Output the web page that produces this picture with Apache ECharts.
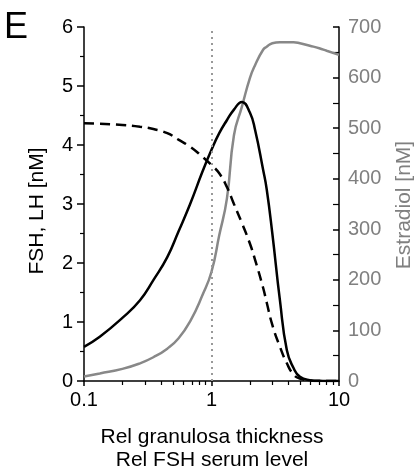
<!DOCTYPE html>
<html><head><meta charset="utf-8">
<script src="https://cdn.jsdelivr.net/npm/echarts@6/dist/echarts.min.js"></script>
<style>html,body{margin:0;padding:0;background:#fff}#c{width:415px;height:471px}</style>
</head><body><div id="c"></div>
<script>
// ---- data ----
const xValues = [0.1,0.133,0.2,0.275,0.35,0.45,0.55,0.68,0.85,1.0,1.15,1.32,1.5,1.73,2.0,2.2,2.54,2.71,3.0,3.44,3.9,4.4,4.94,5.9,7,8,10];
const lhValues = [0.58,0.75,1.07,1.37,1.71,2.1,2.53,3.0,3.55,3.92,4.2,4.42,4.6,4.73,4.55,4.25,3.58,3.25,2.5,1.37,0.52,0.22,0.07,0.015,0.003,0,0];
const fshValues = [4.37,4.36,4.34,4.31,4.27,4.2,4.09,3.97,3.8,3.66,3.52,3.29,3.0,2.68,2.33,2.05,1.58,1.33,0.95,0.58,0.3,0.11,0.04,0.01,0,0,0];
const estradiolValues = [9,15,24,35,47,64,84,118,170,216,288,360,486,542,599,625,655,661,668,670,670,670,668,663,658,653,645];
const xMajorTicks = [0.1,1,10];
const xMinorTicks = [0.2,0.3,0.4,0.5,0.6,0.7,0.8,0.9,2,3,4,5,6,7,8,9];
const referenceX = 1;
const leftRange = [0,6], leftStep = 1;
const rightRange = [0,700], rightStep = 100;
const titleText = 'E';
const leftName = 'FSH, LH [nM]';
const rightName = 'Estradiol [nM]';
const xNameLines = ['Rel granulosa thickness','Rel FSH serum level'];

const FONT = '"Liberation Sans", Arial, sans-serif';
const GRAY = '#888888';
const LABEL_GRAY = '#808080';

const pairs = arr => xValues.map((x,i)=>[x, arr[i]]);

const chart = echarts.init(document.getElementById('c'), null, {renderer:'canvas'});
chart.setOption({
  animation:false,
  backgroundColor:'#fff',
  grid:{left:84, right:76, top:27, bottom:90, containLabel:false},
  xAxis:[{
    type:'log', logBase:10, min:xMajorTicks[0], max:xMajorTicks[xMajorTicks.length-1],
    axisLine:{show:true, onZero:false, lineStyle:{color:'#000', width:1.5}},
    axisTick:{show:true, length:5, lineStyle:{color:'#000', width:1.5}},
    axisLabel:{fontSize:20, color:'#000', fontFamily:FONT, margin:9,
      formatter:v=>String(v)},
    splitLine:{show:false}, minorTick:{show:false}
  },{
    type:'value', min:-1, max:1, position:'bottom',
    axisLine:{show:false, onZero:false},
    axisTick:{show:true, length:4, customValues:xMinorTicks.map(v=>Math.log10(v)), lineStyle:{color:'#000', width:1.2}},
    axisLabel:{show:false}, splitLine:{show:false}
  }],
  yAxis:[{
    type:'value', min:leftRange[0], max:leftRange[1], interval:leftStep, position:'left',
    axisLine:{show:true, onZero:false, lineStyle:{color:'#000', width:1.5}},
    axisTick:{show:true, length:7, lineStyle:{color:'#000', width:1.5}},
    minorTick:{show:true, splitNumber:2, length:4, lineStyle:{color:'#000', width:1.2}},
    axisLabel:{fontSize:20, color:'#000', fontFamily:FONT, margin:11},
    splitLine:{show:false}
  },{
    type:'value', min:rightRange[0], max:rightRange[1], interval:rightStep, position:'right',
    axisLine:{show:true, onZero:false, lineStyle:{color:'#000', width:1.5}},
    axisTick:{show:true, inside:true, length:6, lineStyle:{color:'#000', width:1.5}},
    minorTick:{show:true, splitNumber:2, length:6, lineStyle:{color:'#000', width:1.2}},
    axisLabel:{fontSize:20, color:LABEL_GRAY, fontFamily:FONT, margin:9},
    splitLine:{show:false}
  }],
  series:[{
    name:'Estradiol', type:'line', xAxisIndex:0, yAxisIndex:1, data:pairs(estradiolValues),
    smooth:0.5, symbol:'none', lineStyle:{color:GRAY, width:2.5}, z:2
  },{
    name:'FSH', type:'line', xAxisIndex:0, yAxisIndex:0, data:pairs(fshValues),
    smooth:0.5, symbol:'none', lineStyle:{color:'#000', width:2.5, type:[10,6]}, z:3
  },{
    name:'LH', type:'line', xAxisIndex:0, yAxisIndex:0, data:pairs(lhValues),
    smooth:0.5, symbol:'none', lineStyle:{color:'#000', width:2.5}, z:4,
    markLine:{silent:true, symbol:'none', label:{show:false},
      lineStyle:{color:'#999', type:[2,4], width:2},
      data:[{xAxis:referenceX}]}
  }],
  graphic:[
    {type:'text', x:4, y:28, style:{text:titleText, font:'36px '+FONT, fill:'#000', textAlign:'left', textVerticalAlign:'middle'}},
    {type:'text', x:37, y:211, rotation:Math.PI/2, style:{text:leftName, font:'21px '+FONT, fill:'#000', textAlign:'center', textVerticalAlign:'middle'}},
    {type:'text', x:404, y:205, rotation:Math.PI/2, style:{text:rightName, font:'21px '+FONT, fill:LABEL_GRAY, textAlign:'center', textVerticalAlign:'middle'}},
    {type:'text', x:212, y:437, style:{text:xNameLines[0], font:'21px '+FONT, fill:'#000', textAlign:'center', textVerticalAlign:'middle'}},
    {type:'text', x:212, y:460, style:{text:xNameLines[1], font:'21px '+FONT, fill:'#000', textAlign:'center', textVerticalAlign:'middle'}}
  ]
});
</script></body></html>
